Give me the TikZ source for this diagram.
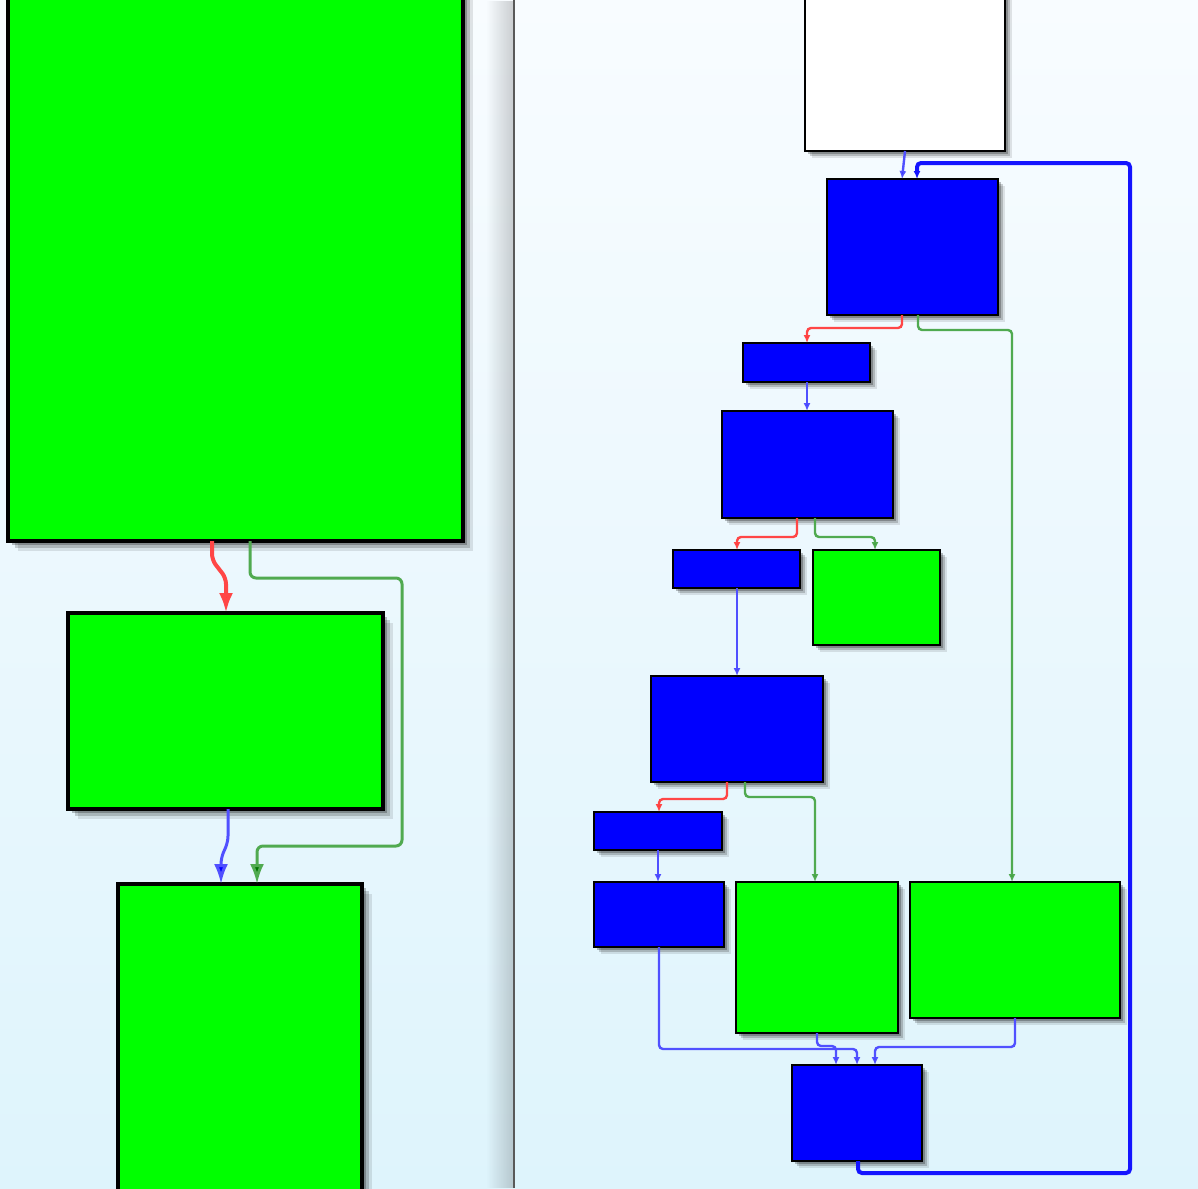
\documentclass[tikz,border=0pt]{standalone}
\usetikzlibrary{arrows.meta,shadows,fadings}
\definecolor{bgtop}{RGB}{248,252,255}
\definecolor{bgbot}{RGB}{222,244,252}
\definecolor{gfill}{RGB}{0,255,0}
\definecolor{bfill}{RGB}{0,0,255}
\definecolor{redE}{RGB}{255,70,70}
\definecolor{greenE}{RGB}{80,170,80}
\definecolor{blueE}{RGB}{80,80,255}
\definecolor{loopC}{RGB}{20,20,255}
\tikzfading[name=fadeR, left color=transparent!100, right color=transparent!0]
\newcommand\mybox[6]{\node[#1, anchor=north west, minimum width={(#5-#3)*0.5pt}, minimum height={(#6-#4)*0.5pt}] (#2) at (#3,#4) {};}
\begin{document}
\begin{tikzpicture}[x=0.5pt,y=-0.5pt,
  base/.style={draw=black, inner sep=0pt, outer sep=0pt},
  shL/.style={drop shadow={shadow xshift=2pt,shadow yshift=-2pt,opacity=0.25,fill=black},
              drop shadow={shadow xshift=3.5pt,shadow yshift=-3.5pt,opacity=0.18,fill=black},
              drop shadow={shadow xshift=5pt,shadow yshift=-5pt,opacity=0.1,fill=black}},
  shR/.style={drop shadow={shadow xshift=1.5pt,shadow yshift=-1.5pt,opacity=0.25,fill=black},
              drop shadow={shadow xshift=2.5pt,shadow yshift=-2.5pt,opacity=0.18,fill=black},
              drop shadow={shadow xshift=3.5pt,shadow yshift=-3.5pt,opacity=0.1,fill=black}},
  gL/.style={base, shL, fill=gfill, line width=1.6pt},
  gR/.style={base, shR, fill=gfill, line width=1.3pt},
  bR/.style={base, shR, fill=bfill, line width=1.3pt},
  wR/.style={base, shR, fill=white, line width=1.3pt},
  redL/.style={draw=redE, line width=2pt, rounded corners=3pt},
  greenL/.style={draw=greenE, line width=1.5pt, rounded corners=3pt, -{Latex[length=10pt,width=7pt,fill=green!45!black]}},
  blueL/.style={draw=blueE, line width=1.5pt, rounded corners=3pt, -{Latex[length=10pt,width=7pt,fill=bfill]}},
  redR/.style={draw=redE, line width=1.2pt, rounded corners=2pt, -{Latex[length=4pt,width=3.5pt,fill=red]}},
  greenR/.style={draw=greenE, line width=1.2pt, rounded corners=2pt, -{Latex[length=4pt,width=3.5pt,fill=green!45!black]}},
  blueR/.style={draw=blueE, line width=1.2pt, rounded corners=2pt, -{Latex[length=4pt,width=3.5pt,fill=bfill]}},
  loopE/.style={draw=loopC, line width=2pt, rounded corners=2pt, -{Latex[length=4pt,width=3.5pt,fill=bfill]}}
]
\useasboundingbox (0,0) rectangle (1198,1188);
\clip (0,0) rectangle (1198,1188);
\shade[top color=bgtop, bottom color=bgbot] (0,0) rectangle (1198,1188);
% divider shadow and line
\fill[black, opacity=0.18, path fading=fadeR] (486,0) rectangle (513,1188);
\draw[draw=black!65, line width=1pt] (514,0) -- (514,1188);

% ---- left panel
\mybox{gL}{L1}{8}{-20}{463}{541}
\mybox{gL}{L2}{68}{613}{383}{809}
\mybox{gL}{L3}{118}{884}{362}{1210}

\draw[redL, -{Latex[length=10pt,width=7pt,fill=red]}] (212,0|-L1.south) -- (212,560) -- (226,578) -- (226,0|-L2.north);
\draw[greenL] (250,0|-L1.south) |- (402,578) |- (257,846) -- (257,0|-L3.north);
\draw[blueL] (228,0|-L2.south) -- (228,842) -- (221,858) -- (221,0|-L3.north);

% ---- right panel
\mybox{wR}{R0}{805}{-20}{1005}{151}
\mybox{bR}{R1}{827}{179}{998}{315}
\mybox{bR}{R2}{743}{343}{870}{382}
\mybox{bR}{R3}{722}{411}{893}{518}
\mybox{bR}{R4}{673}{550}{800}{588}
\mybox{gR}{R5}{813}{550}{940}{645}
\mybox{bR}{R6}{651}{676}{823}{782}
\mybox{bR}{R7}{594}{812}{722}{850}
\mybox{bR}{R8}{594}{882}{724}{947}
\mybox{gR}{R9}{736}{882}{898}{1033}
\mybox{gR}{R10}{910}{882}{1120}{1018}
\mybox{bR}{R11}{792}{1065}{922}{1161}

\draw[blueR] (905,0|-R0.south) -- (902,0|-R1.north);
\draw[loopE] (858,0|-R11.south) |- (1130,1173) |- (917,163) -- (917,0|-R1.north);
\draw[redR] (902,0|-R1.south) |- (807,328) -- (807,0|-R2.north);
\draw[greenR] (918,0|-R1.south) |- (1012,330) -- (1012,0|-R10.north);
\draw[blueR] (807,0|-R2.south) -- (807,0|-R3.north);
\draw[redR] (797,0|-R3.south) |- (737,537) -- (737,0|-R4.north);
\draw[greenR] (815,0|-R3.south) |- (875,537) -- (875,0|-R5.north);
\draw[blueR] (737,0|-R4.south) -- (737,0|-R6.north);
\draw[redR] (727,0|-R6.south) |- (659,799) -- (659,0|-R7.north);
\draw[greenR] (745,0|-R6.south) |- (815,797) -- (815,0|-R9.north);
\draw[blueR] (658,0|-R7.south) -- (658,0|-R8.north);
\draw[blueR] (659,0|-R8.south) |- (857,1049) -- (857,0|-R11.north);
\draw[blueR] (817,0|-R9.south) |- (836,1046) -- (836,0|-R11.north);
\draw[blueR] (1015,0|-R10.south) |- (875,1047) -- (875,0|-R11.north);
\end{tikzpicture}
\end{document}
